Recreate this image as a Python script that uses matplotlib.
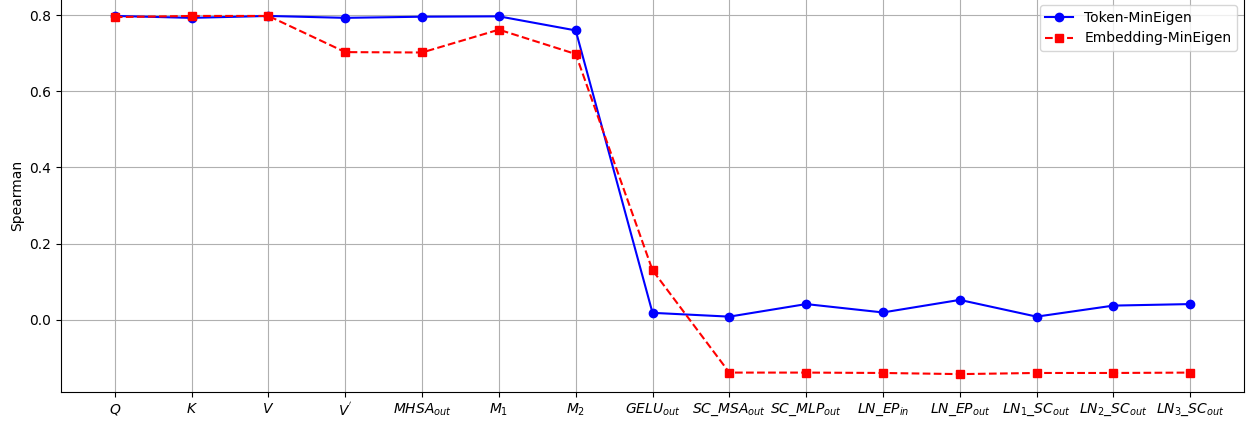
import matplotlib
matplotlib.use("Agg")
import matplotlib.pyplot as plt

layers = [
    r"$Q$", r"$K$", r"$V$", r"$V^{'}$", r"$MHSA_{out}$", r"$M_1$", r"$M_2$",
    r"$GELU_{out}$", r"$SC\_MSA_{out}$", r"$SC\_MLP_{out}$", r"$LN\_EP_{in}$",
    r"$LN\_EP_{out}$", r"$LN_1\_SC_{out}$", r"$LN_2\_SC_{out}$", r"$LN_3\_SC_{out}$",
]

token_mineigen = [0.798, 0.793, 0.798, 0.793, 0.796, 0.797, 0.760,
                  0.018, 0.008, 0.041, 0.019, 0.052, 0.008, 0.037, 0.041]
embedding_mineigen = [0.795, 0.798, 0.798, 0.703, 0.702, 0.762, 0.698,
                      0.130, -0.139, -0.139, -0.140, -0.143, -0.140, -0.140, -0.139]


def main():
    fig = plt.figure(figsize=(12.48, 4.25), dpi=100)
    ax = fig.add_axes([0.0489, 0.0776, 0.9479, 0.927])

    x = list(range(len(layers)))
    ax.plot(x, token_mineigen, "b-o", label="Token-MinEigen")
    ax.plot(x, embedding_mineigen, "r--s", label="Embedding-MinEigen")

    ax.set_xticks(x)
    ax.set_xticklabels(layers)
    ax.set_ylabel("Spearman")
    ax.grid(True)
    ax.legend(loc="upper right")

    fig.savefig("out.png", dpi=100)
    plt.close(fig)


if __name__ == "__main__":
    main()
